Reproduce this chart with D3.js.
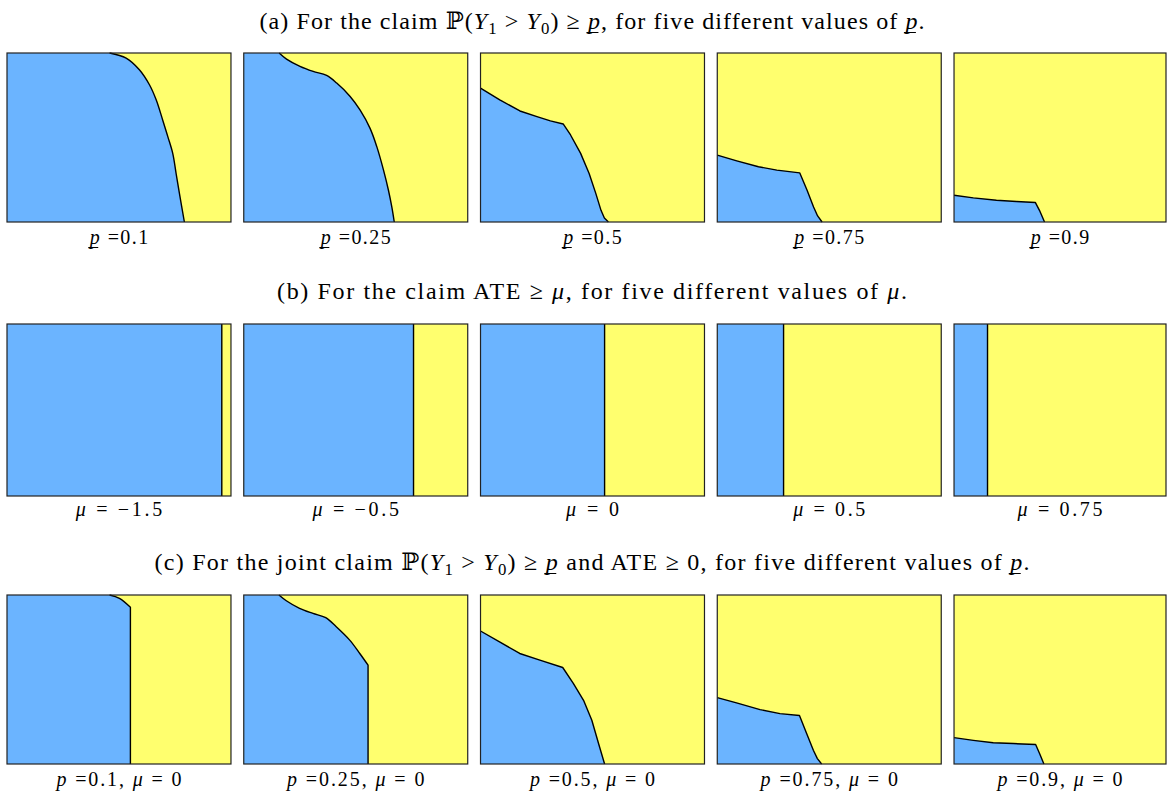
<!DOCTYPE html>
<html><head><meta charset="utf-8">
<script src="https://cdn.jsdelivr.net/npm/d3@7"></script>
<style>
body{margin:0;background:#fff}
text{font-family:"Liberation Serif","DejaVu Serif",serif;fill:#000}
</style>
</head><body>
<svg id="chart" width="1167" height="793"></svg>
<script>
// ---------- data ----------
const pValues  = ["0.1", "0.25", "0.5", "0.75", "0.9"];
const muValues = ["\u22121.5", "\u22120.5", "0", "0.5", "0.75"];

// boundary curves in unit coordinates [x (left→right), y (bottom→top)]
const boundaryA1 = [[0.458,1],[0.532,0.970],[0.591,0.901],[0.636,0.812],[0.666,0.723],[0.695,0.604],[0.718,0.505],[0.740,0.406],[0.755,0.287],[0.770,0.168],[0.792,0]];
const boundaryA2 = [[0.158,1],[0.191,0.964],[0.251,0.921],[0.310,0.891],[0.370,0.867],[0.415,0.822],[0.475,0.743],[0.519,0.663],[0.564,0.554],[0.594,0.446],[0.624,0.307],[0.646,0.188],[0.661,0.089],[0.672,0]];
const boundaryA3 = [[0,0.792],[0.086,0.723],[0.176,0.657],[0.252,0.624],[0.312,0.598],[0.369,0.580],[0.402,0.515],[0.447,0.406],[0.485,0.287],[0.515,0.168],[0.538,0.069],[0.553,0.024],[0.571,0]];
const boundaryA4 = [[0,0.396],[0.087,0.362],[0.184,0.327],[0.266,0.307],[0.368,0.291],[0.401,0.188],[0.430,0.089],[0.448,0.036],[0.468,0]];
const boundaryA5 = [[0,0.158],[0.091,0.143],[0.200,0.129],[0.294,0.121],[0.384,0.115],[0.403,0.069],[0.427,0]];

const ateThresholds = [0.959, 0.758, 0.554, 0.296, 0.158];

const boundaryC1 = [[0.458,1],[0.502,0.980],[0.551,0.927],[0.551,0]];
const boundaryC2 = [[0.157,1],[0.190,0.966],[0.249,0.921],[0.309,0.891],[0.366,0.866],[0.413,0.812],[0.473,0.733],[0.518,0.654],[0.555,0.585],[0.555,0]];
const boundaryC3 = [[0,0.787],[0.085,0.723],[0.175,0.654],[0.265,0.615],[0.367,0.571],[0.415,0.476],[0.460,0.377],[0.497,0.259],[0.527,0.121],[0.554,0]];
const boundaryC4 = [[0,0.393],[0.086,0.362],[0.191,0.322],[0.280,0.298],[0.367,0.287],[0.399,0.180],[0.429,0.081],[0.447,0.032],[0.466,0]];
const boundaryC5 = [[0,0.156],[0.091,0.140],[0.185,0.126],[0.279,0.121],[0.385,0.115],[0.404,0.061],[0.424,0]];

const titleA = [{t:"(a) For the claim "},{t:"\u2119"},{t:"("},{t:"Y",i:1},{t:"1",s:1},{t:" > "},{t:"Y",i:1},{t:"0",s:1},{t:") \u2265 "},{t:"p",i:1,u:1},{t:", for five different values of "},{t:"p",i:1,u:1},{t:"."}];
const titleB = [{t:"(b) For the claim ATE \u2265 "},{t:"\u03bc",i:1},{t:", for five different values of "},{t:"\u03bc",i:1},{t:"."}];
const titleC = [{t:"(c) For the joint claim "},{t:"\u2119"},{t:"("},{t:"Y",i:1},{t:"1",s:1},{t:" > "},{t:"Y",i:1},{t:"0",s:1},{t:") \u2265 "},{t:"p",i:1,u:1},{t:" and ATE \u2265 0, for five different values of "},{t:"p",i:1,u:1},{t:"."}];

// ---------- layout ----------
const BLUE = "#6bb4ff", YELLOW = "#ffff6e";
const svg = d3.select("#chart");
const xBand = d3.scaleBand().domain(d3.range(5)).range([7, 1178]).paddingInner(0.054);
const TITLE_SIZE = 24, LABEL_SIZE = 20, TITLE_CX = 592;
const rows = [
  {top:53,  h:169, title:titleA, titleY:29,  titleW:665, labelY:244, labelStretch:1.14,
   blue: [boundaryA1,boundaryA2,boundaryA3,boundaryA4,boundaryA5], smooth:[11,14,0,0,0],
   label: i => [{t:"p",i:1,u:1},{t:" ="+pValues[i]}]},
  {top:324, h:172, title:titleB, titleY:299, titleW:630, labelY:516, labelStretch:1.28,
   blue: ateThresholds.map(v => [[v,1],[v,0]]), smooth:[0,0,0,0,0],
   label: i => [{t:"\u03bc",i:1},{t:" = "+muValues[i]}]},
  {top:595, h:169, title:titleC, titleY:570, titleW:875, labelY:786, labelStretch:1.22,
   blue: [boundaryC1,boundaryC2,boundaryC3,boundaryC4,boundaryC5], smooth:[3,9,0,0,0],
   label: i => [{t:"p",i:1},{t:" ="+pValues[i]+", "},{t:"\u03bc",i:1},{t:" = 0"}]}
];

function rich(sel, segs, size) {
  let prevSub = false;
  const under = [];
  segs.forEach(s => {
    const ts = sel.append("tspan").text(s.t);
    if (s.i) ts.style("font-style","italic");
    if (s.s) { ts.attr("font-size", size*0.7).attr("dy", size*0.22); }
    else if (prevSub) { ts.attr("dy", -size*0.22); }
    prevSub = !!s.s;
    if (s.u) under.push(ts);
  });
  return under;
}
function setWidth(textSel, w) {
  textSel.attr("textLength", w).attr("lengthAdjust","spacing");
}
function underline(g, tspans) {
  tspans.forEach(ts => {
    const bb = ts.node().getBBox();
    const y = bb.y + bb.height - 1.5;
    g.append("line").attr("x1", bb.x + 0.5).attr("x2", bb.x + bb.width - 1.5)
      .attr("y1", y).attr("y2", y).attr("stroke","#000").attr("stroke-width",1);
  });
}

function pathFor(pts, k, line, lineSmooth) {
  if (k <= 1) return line(pts);
  const head = lineSmooth(pts.slice(0, k));
  const rest = pts.slice(k - 1);
  const tail = rest.length > 1 ? line(rest).replace(/^M[^L]*/, "") : "";
  return head + tail;
}

rows.forEach((row, r) => {
  const g = svg.append("g");
  const tt = g.append("text").attr("x", TITLE_CX).attr("y", row.titleY)
    .attr("text-anchor","middle").attr("font-size", TITLE_SIZE);
  const tu = rich(tt, row.title, TITLE_SIZE);
  setWidth(tt, row.titleW);
  underline(g, tu);

  d3.range(5).forEach(i => {
    const left = xBand(i), right = Math.min(left + xBand.bandwidth(), 1166);
    const xs = d3.scaleLinear().domain([0,1]).range([left, right]);
    const ys = d3.scaleLinear().domain([0,1]).range([row.top + row.h, row.top]);
    const line = d3.line().x(d => xs(d[0])).y(d => ys(d[1]));
    const lineSmooth = d3.line().x(d => xs(d[0])).y(d => ys(d[1])).curve(d3.curveCatmullRom.alpha(0.5));
    const b = row.blue[i];
    const k = row.smooth[i];
    const bPath = pathFor(b, k, line, lineSmooth);
    const closeTo = `L${xs(0)},${ys(0)}L${xs(0)},${ys(b[0][1])}Z`;

    g.append("rect").attr("x", xs(0)).attr("y", ys(1))
      .attr("width", xs(1)-xs(0)).attr("height", ys(0)-ys(1)).attr("fill", YELLOW);
    g.append("path").attr("d", bPath + closeTo).attr("fill", BLUE);
    g.append("path").attr("d", bPath).attr("fill","none")
      .attr("stroke","#000").attr("stroke-width",1.4).attr("stroke-linejoin","round");
    g.append("rect").attr("x", xs(0)).attr("y", ys(1))
      .attr("width", xs(1)-xs(0)).attr("height", ys(0)-ys(1))
      .attr("fill","none").attr("stroke","#222").attr("stroke-width",1.2);

    const lt = g.append("text").attr("x", (left+right)/2).attr("y", row.labelY)
      .attr("text-anchor","middle").attr("font-size", LABEL_SIZE);
    const lu = rich(lt, row.label(i), LABEL_SIZE);
    setWidth(lt, lt.node().getComputedTextLength() * row.labelStretch);
    underline(g, lu);
  });
});
</script>
</body></html>
